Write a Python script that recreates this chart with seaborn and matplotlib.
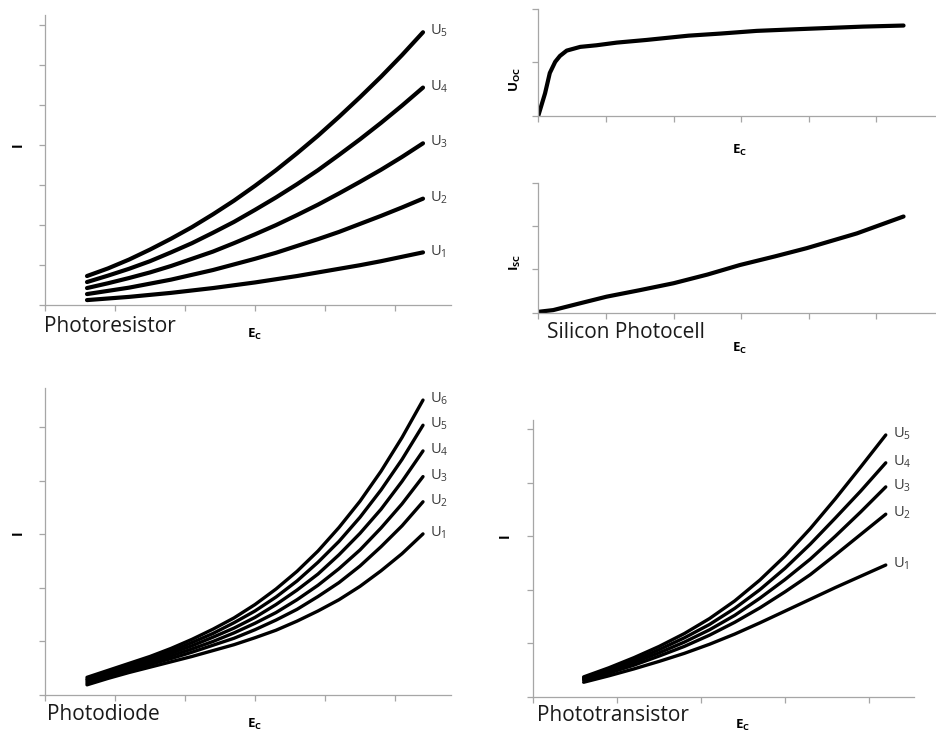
import matplotlib
matplotlib.use('Agg')
import matplotlib.pyplot as plt
import seaborn as sns
import pandas as pd

sns.set_theme(style='ticks')
plt.rcParams['font.family'] = ['Open Sans', 'DejaVu Sans']
plt.rcParams['mathtext.fontset'] = 'custom'
plt.rcParams['mathtext.rm'] = 'Open Sans'
plt.rcParams['mathtext.it'] = 'Open Sans'
plt.rcParams['mathtext.bf'] = 'Open Sans:bold'

# ---------------- data ----------------
# Photoresistor
pr_x = [0.6, 0.9, 1.2, 1.5, 1.8, 2.1, 2.4, 2.7, 3.0, 3.3, 3.6, 3.9, 4.2, 4.5, 4.8, 5.1, 5.4]
pr_names = ['1', '2', '3', '4', '5']
pr_U1 = [0.13, 0.17, 0.21, 0.26, 0.31, 0.37, 0.43, 0.50, 0.57, 0.65, 0.73, 0.82, 0.91, 1.00, 1.10, 1.21, 1.32]
pr_U2 = [0.28, 0.36, 0.44, 0.54, 0.64, 0.76, 0.88, 1.02, 1.16, 1.31, 1.48, 1.65, 1.83, 2.03, 2.23, 2.44, 2.66]
pr_U3 = [0.43, 0.55, 0.68, 0.82, 0.98, 1.16, 1.34, 1.55, 1.77, 2.00, 2.25, 2.51, 2.79, 3.08, 3.38, 3.70, 4.04]
pr_U4 = [0.58, 0.74, 0.91, 1.10, 1.32, 1.55, 1.81, 2.08, 2.38, 2.69, 3.02, 3.37, 3.75, 4.14, 4.55, 4.98, 5.43]
pr_U5 = [0.73, 0.92, 1.14, 1.39, 1.66, 1.95, 2.27, 2.61, 2.98, 3.37, 3.79, 4.23, 4.70, 5.19, 5.70, 6.24, 6.81]

# Silicon photocell
uoc_x = [0.0, 0.10, 0.17, 0.25, 0.32, 0.42, 0.62, 0.86, 1.16, 1.60, 2.22, 2.70, 3.23, 3.80, 4.20, 4.80, 5.40]
uoc_y = [0.0, 0.42, 0.80, 1.01, 1.12, 1.22, 1.29, 1.32, 1.37, 1.42, 1.50, 1.54, 1.59, 1.62, 1.64, 1.67, 1.69]
isc_x = [0.0, 0.22, 0.60, 1.01, 1.50, 2.00, 2.50, 2.98, 3.50, 3.97, 4.71, 5.40]
isc_y = [0.02, 0.06, 0.21, 0.37, 0.52, 0.68, 0.88, 1.10, 1.30, 1.49, 1.83, 2.22]

# Photodiode
pd_x = [0.6, 0.9, 1.2, 1.5, 1.8, 2.1, 2.4, 2.7, 3.0, 3.3, 3.6, 3.9, 4.2, 4.5, 4.8, 5.1, 5.4]
pd_names = ['1', '2', '3', '4', '5', '6']
pd_U1 = [0.19, 0.31, 0.42, 0.52, 0.62, 0.72, 0.83, 0.94, 1.07, 1.21, 1.38, 1.57, 1.78, 2.03, 2.32, 2.64, 3.01]
pd_U2 = [0.22, 0.35, 0.46, 0.57, 0.68, 0.80, 0.93, 1.06, 1.22, 1.40, 1.60, 1.84, 2.10, 2.41, 2.77, 3.16, 3.61]
pd_U3 = [0.25, 0.38, 0.49, 0.61, 0.73, 0.86, 1.00, 1.16, 1.34, 1.54, 1.78, 2.05, 2.36, 2.71, 3.12, 3.57, 4.08]
pd_U4 = [0.28, 0.40, 0.53, 0.64, 0.78, 0.92, 1.08, 1.25, 1.45, 1.69, 1.96, 2.26, 2.62, 3.02, 3.47, 3.99, 4.56]
pd_U5 = [0.30, 0.43, 0.56, 0.68, 0.82, 0.98, 1.15, 1.35, 1.57, 1.83, 2.13, 2.48, 2.87, 3.32, 3.83, 4.40, 5.04]
pd_U6 = [0.33, 0.46, 0.59, 0.72, 0.87, 1.04, 1.23, 1.44, 1.69, 1.98, 2.31, 2.69, 3.13, 3.62, 4.18, 4.81, 5.51]

# Phototransistor
pt_x = [0.6, 0.9, 1.2, 1.5, 1.8, 2.1, 2.4, 2.7, 3.0, 3.3, 3.6, 3.9, 4.2]
pt_names = ['1', '2', '3', '4', '5']
pt_U1 = [0.27, 0.39, 0.52, 0.66, 0.81, 0.98, 1.17, 1.38, 1.60, 1.82, 2.04, 2.25, 2.46]
pt_U2 = [0.31, 0.44, 0.59, 0.76, 0.94, 1.15, 1.39, 1.66, 1.96, 2.28, 2.65, 3.03, 3.41]
pt_U3 = [0.33, 0.48, 0.64, 0.82, 1.02, 1.25, 1.52, 1.84, 2.19, 2.57, 3.00, 3.45, 3.92]
pt_U4 = [0.35, 0.51, 0.68, 0.88, 1.10, 1.35, 1.65, 2.00, 2.40, 2.85, 3.34, 3.84, 4.37]
pt_U5 = [0.37, 0.54, 0.73, 0.94, 1.18, 1.46, 1.79, 2.18, 2.63, 3.14, 3.70, 4.29, 4.89]

titles = ['Photoresistor', 'Silicon Photocell', 'Photodiode', 'Phototransistor']

# ---------------- figure ----------------
W, H = 936, 732
fig = plt.figure(figsize=(W / 100, H / 100), dpi=100)
GRAY = '#a6a6a6'


def box(l, t, r, b):
    return [l / W, 1 - b / H, (r - l) / W, (b - t) / H]


def fx(px):
    return px / W


def fy(py):
    return 1 - py / H


def style(ax, xticks, yticks, xlim, ylim):
    ax.set_xlim(*xlim)
    ax.set_ylim(*ylim)
    ax.set_xticks(xticks)
    ax.set_yticks(yticks)
    ax.set_xticklabels([])
    ax.set_yticklabels([])
    ax.set_xlabel('')
    ax.set_ylabel('')
    for s in ['top', 'right']:
        ax.spines[s].set_visible(False)
    for s in ['left', 'bottom']:
        ax.spines[s].set_color(GRAY)
        ax.spines[s].set_linewidth(0.9)
    ax.tick_params(length=4, width=0.9, color=GRAY, direction='out')


def family_plot(ax, xs, names, series, lw):
    rows = []
    for n, ys in zip(names, series):
        for x, y in zip(xs, ys):
            rows.append({'E': x, 'I': y, 'U': n})
    df = pd.DataFrame(rows)
    sns.lineplot(data=df, x='E', y='I', hue='U', palette=['black'] * len(names),
                 legend=False, linewidth=lw, ax=ax, solid_capstyle='round',
                 solid_joinstyle='round')
    for n, ys in zip(names, series):
        ax.annotate('U$_{%s}$' % n, xy=(xs[-1], ys[-1]), xytext=(5, -2),
                    textcoords='offset points', fontsize=10.5, color='#3a3a3a',
                    va='baseline', ha='left')


# Photoresistor
ax1 = fig.add_axes(box(45, 15, 451, 305.3))
family_plot(ax1, pr_x, pr_names, [pr_U1, pr_U2, pr_U3, pr_U4, pr_U5], 3.0)
style(ax1, range(0, 6), range(0, 8), (0, 5.8), (0, 7.24))

# Silicon photocell: U_OC
ax2 = fig.add_axes(box(538.3, 9, 936, 115.7))
sns.lineplot(x=uoc_x, y=uoc_y, color='black', linewidth=3.0, ax=ax2, sort=False,
             solid_joinstyle='round')
style(ax2, range(0, 6), range(0, 3), (0, 5.88), (0, 2.0))

# Silicon photocell: I_SC
ax3 = fig.add_axes(box(538.3, 182.7, 936, 312.7))
sns.lineplot(x=isc_x, y=isc_y, color='black', linewidth=3.0, ax=ax3, sort=False,
             solid_joinstyle='round')
style(ax3, range(0, 6), range(0, 4), (0, 5.88), (0, 3.0))

# Photodiode
ax4 = fig.add_axes(box(45, 388.3, 451, 695))
family_plot(ax4, pd_x, pd_names, [pd_U1, pd_U2, pd_U3, pd_U4, pd_U5, pd_U6], 2.4)
style(ax4, range(0, 6), range(0, 6), (0, 5.8), (0, 5.73))

# Phototransistor
ax5 = fig.add_axes(box(533.3, 420, 914.3, 696.7))
family_plot(ax5, pt_x, pt_names, [pt_U1, pt_U2, pt_U3, pt_U4, pt_U5], 2.4)
style(ax5, range(0, 5), range(0, 6), (0, 4.54), (0, 5.17))

# ---------------- text ----------------
TC = '#1a1a1a'
EC = r'$\mathbf{E}_{\mathbf{C}}$'
fig.text(fx(44), fy(332), titles[0], fontsize=15, color=TC, va='baseline', ha='left')
fig.text(fx(547), fy(338), titles[1], fontsize=15, color=TC, va='baseline', ha='left')
fig.text(fx(47), fy(720), titles[2], fontsize=15, color=TC, va='baseline', ha='left')
fig.text(fx(537), fy(721), titles[3], fontsize=15, color=TC, va='baseline', ha='left')

for (px, py) in [(255, 334), (740, 150), (740, 348), (255, 724), (743, 725)]:
    fig.text(fx(px), fy(py), EC, fontsize=9.5, color='black', ha='center', va='center')

for (px, py) in [(18, 145), (18, 533), (505, 536)]:
    fig.text(fx(px), fy(py), 'I', fontsize=10, fontweight='bold', color='black',
             rotation=90, ha='center', va='center')

fig.text(fx(515), fy(79), r'$\mathbf{U}_{\mathbf{OC}}$', fontsize=9.5, rotation=90,
         ha='center', va='center', color='black')
fig.text(fx(515), fy(262), r'$\mathbf{I}_{\mathbf{SC}}$', fontsize=9.5, rotation=90,
         ha='center', va='center', color='black')

fig.savefig('out.png', dpi=100)
